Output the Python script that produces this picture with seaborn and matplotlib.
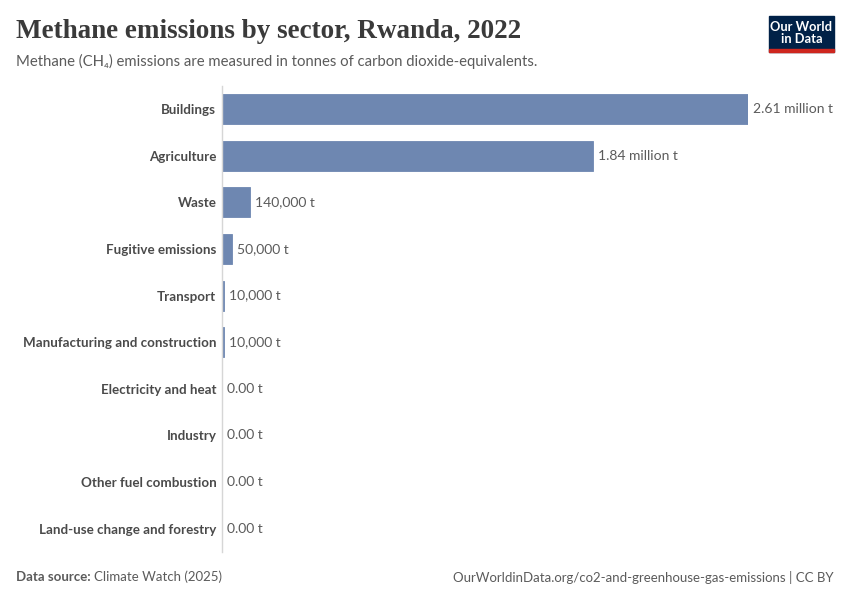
import pandas as pd
import seaborn as sns
import matplotlib.pyplot as plt
from matplotlib.patches import Rectangle

# data
sectors = ['Buildings', 'Agriculture', 'Waste', 'Fugitive emissions', 'Transport',
           'Manufacturing and construction', 'Electricity and heat', 'Industry',
           'Other fuel combustion', 'Land-use change and forestry']
emissions = [2610000, 1840000, 140000, 50000, 10000, 10000, 0, 0, 0, 0]

df = pd.DataFrame({'Sector': sectors, 'Emissions': emissions})


def fmt(v):
    if v >= 1e6:
        return '{:.2f} million t'.format(v / 1e6)
    if v == 0:
        return '0.00 t'
    return '{:,.0f} t'.format(v)


sns.set_theme(style='white')
plt.rcParams['font.family'] = ['Lato', 'DejaVu Sans']

fig = plt.figure(figsize=(8.5, 6), dpi=100)
ax = fig.add_axes([0.261, 0.08, 0.619, 0.777])

sns.barplot(data=df, x='Emissions', y='Sector', color='#6e87b1', saturation=1,
            width=0.64, linewidth=0.6, edgecolor='#6e87b1', ax=ax)
ax.set_xlim(0, max(emissions))
ax.set_ylim(len(sectors) - 0.5, -0.5)

for i, v in enumerate(emissions):
    ax.annotate(fmt(v), (v, i), xytext=(3.8, 0), textcoords='offset points',
                va='center', ha='left', fontsize=10, color='#5b5b5b')

for s in ['top', 'right', 'bottom']:
    ax.spines[s].set_visible(False)
ax.spines['left'].set_color('#d6d6d6')
ax.spines['left'].set_linewidth(1)
ax.set_xticks([])
ax.set_xlabel('')
ax.set_ylabel('')
ax.tick_params(axis='y', length=0, pad=4)
for lab in ax.get_yticklabels():
    lab.set_fontsize(9.6)
    lab.set_color('#4a4a4a')
    lab.set_fontweight('bold')

# title block
fig.text(16 / 850, 1 - 32 / 600, 'Methane emissions by sector, Rwanda, 2022',
         family=['Liberation Serif', 'DejaVu Serif'], fontsize=19.5, fontweight='bold',
         color='#3a3a3a', va='center', ha='left')
fig.text(16 / 850, 1 - 61 / 600,
         'Methane (CH₄) emissions are measured in tonnes of carbon dioxide-equivalents.',
         family=['Lato', 'DejaVu Sans'], fontsize=10.7, color='#5b5b5b', va='center', ha='left')

# logo
fig.patches.append(Rectangle((769 / 850, 1 - 52 / 600), 65 / 850, 36 / 600,
                             transform=fig.transFigure, color='#002147', zorder=5))
fig.patches.append(Rectangle((769 / 850, 1 - 52 / 600), 65 / 850, 3 / 600,
                             transform=fig.transFigure, color='#ce261e', zorder=6))
fig.text(801.5 / 850, 1 - 33 / 600, 'Our World\nin Data', color='white', fontsize=9.3,
         fontweight='bold', ha='center', va='center', linespacing=1.0, zorder=7)

# footer
t = fig.text(16 / 850, 1 - 577 / 600, 'Data source:', fontsize=9.5, color='#5b5b5b',
             fontweight='bold', va='center', ha='left')
fig.canvas.draw()
bb = t.get_window_extent()
fig.text(bb.x1 / 850 + 3 / 850, 1 - 577 / 600, 'Climate Watch (2025)', fontsize=9.5,
         color='#5b5b5b', va='center', ha='left')
fig.text(834 / 850, 1 - 577 / 600, 'OurWorldinData.org/co2-and-greenhouse-gas-emissions | CC BY',
         fontsize=9.5, color='#5b5b5b', va='center', ha='right')

fig.savefig('out.png', dpi=100)
